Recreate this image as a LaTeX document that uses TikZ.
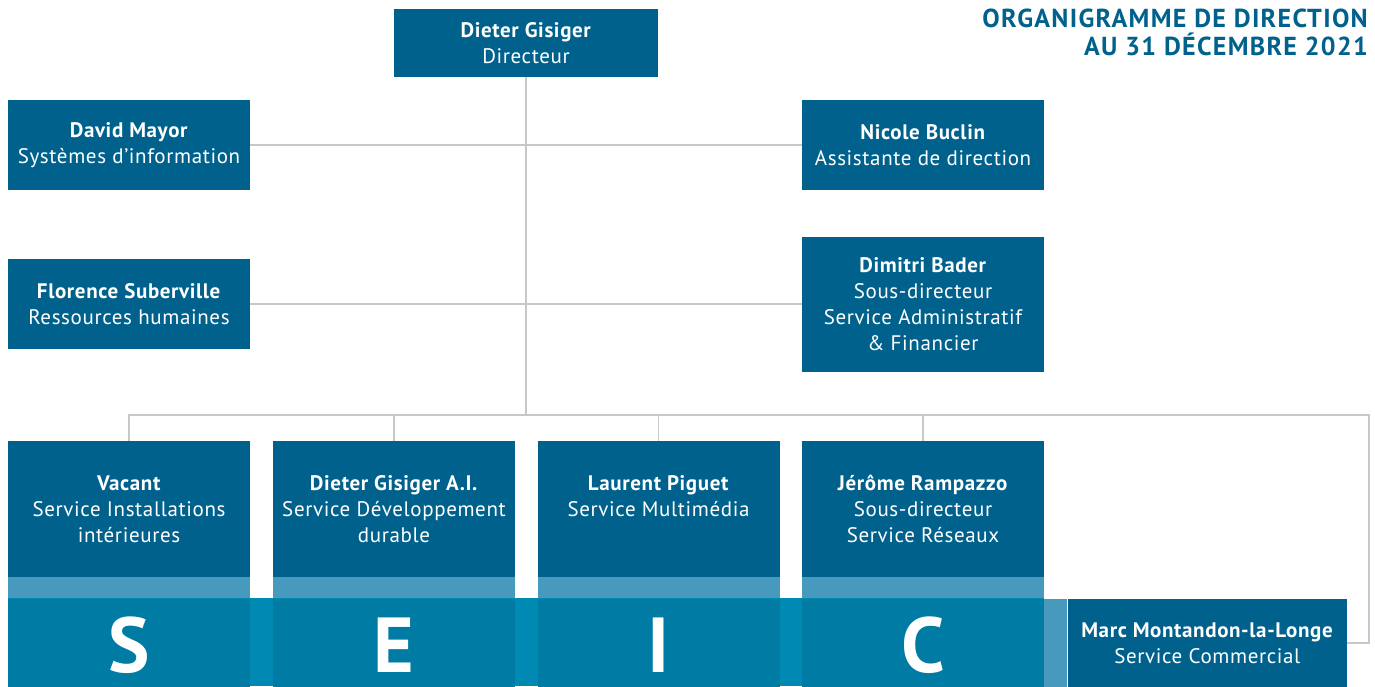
\documentclass[tikz,border=0pt]{standalone}
\usepackage{fontspec}
\setmainfont{PT Sans}[LetterSpace=3]
\newfontfamily\titlefont{PT Sans}[LetterSpace=5]
\usetikzlibrary{positioning}
\definecolor{boxblue}{HTML}{00628C}
\definecolor{bandblue}{HTML}{007CA4}
\definecolor{gapblue}{HTML}{0089B2}
\definecolor{stripblue}{HTML}{4799BE}
\definecolor{linegray}{HTML}{C8C8C8}

\begin{document}
\begin{tikzpicture}[x=1pt, y=-1pt,
    box/.style={fill=boxblue, text=white, minimum width=242pt, minimum height=90pt,
      inner sep=0pt, align=center, font=\fontsize{21}{26}\selectfont},
    strip/.style={fill=stripblue, minimum width=242pt, minimum height=21pt, inner sep=0pt},
    letter/.style={fill=bandblue, text=white, minimum width=242pt, minimum height=88pt,
      inner sep=0pt, text height=60pt, text depth=0pt, font=\fontsize{78}{78}\selectfont\bfseries},
    link/.style={draw=linegray, line width=1.5pt}]
    \useasboundingbox (0,0) rectangle (1375,686);

    % title
    \node[anchor=north east, align=right, inner sep=0pt, text=boxblue,
      font=\titlefont\fontsize{26}{28}\selectfont\bfseries] (title) at (1368,9)
      {ORGANIGRAMME DE DIRECTION\\AU 31 DÉCEMBRE 2021};

    % direction
    \node[box, minimum width=264pt, minimum height=68pt](dir) at (526,43){\textbf{Dieter Gisiger}\\Directeur};
    \node[box](mayor) at (129,145){\textbf{David Mayor}\\Systèmes d’information};
    \node[box](buclin) at (923,145){\textbf{Nicole Buclin}\\Assistante de direction};
    \node[box](suberville) at (129,304){\textbf{Florence Suberville}\\Ressources humaines};
    \node[box, minimum height=135pt](bader) at (923,304){\textbf{Dimitri Bader}\\Sous-directeur\\Service Administratif\\\& Financier};

    % services
    \fill[gapblue] (8,598) rectangle (1044,686);
    \node[box, minimum height=136pt](vacant) at (129,509){\textbf{Vacant}\\Service Installations\\intérieures};
    \node[box, minimum height=136pt](durable) at (394,509){\textbf{Dieter Gisiger A.I.}\\Service Développement\\durable};
    \node[box, minimum height=136pt](piguet) at (658.5,509){\textbf{Laurent Piguet}\\Service Multimédia\\~};
    \node[box, minimum height=136pt](rampazzo) at (923,509){\textbf{Jérôme Rampazzo}\\Sous-directeur\\Service Réseaux};
    \node[strip](vacant-s)[below=0pt of vacant]{};
    \node[strip](durable-s)[below=0pt of durable]{};
    \node[strip](piguet-s)[below=0pt of piguet]{};
    \node[strip](rampazzo-s)[below=0pt of rampazzo]{};
    \node[letter](s)[below=0pt of vacant-s]{S};
    \node[letter](e)[below=0pt of durable-s]{E};
    \node[letter](i)[below=0pt of piguet-s]{I};
    \node[letter](c)[below=0pt of rampazzo-s]{C};
    \node[strip, minimum width=23pt, minimum height=88pt](c-s)[right=0pt of c]{};
    \node[box, minimum width=279pt, minimum height=88pt](marc)[right=0pt of c-s]{\textbf{Marc Montandon-la-Longe}\\Service Commercial};

    % connectors
    \coordinate (bus) at (526,415);
    \coordinate (turn) at (1369,415);
    \draw[link] (dir) -- (bus);
    \draw[link] (mayor.east) -- (mayor.east -| buclin.west);
    \draw[link] (suberville.east) -- (suberville.east -| bader.west);
    \draw[link] (vacant.north) |- (turn) |- (marc.east);
    \draw[link] (durable.north) -- (durable.north |- bus);
    \draw[link] (piguet.north) -- (piguet.north |- bus);
    \draw[link] (rampazzo.north) -- (rampazzo.north |- bus);
\end{tikzpicture}
\end{document}
